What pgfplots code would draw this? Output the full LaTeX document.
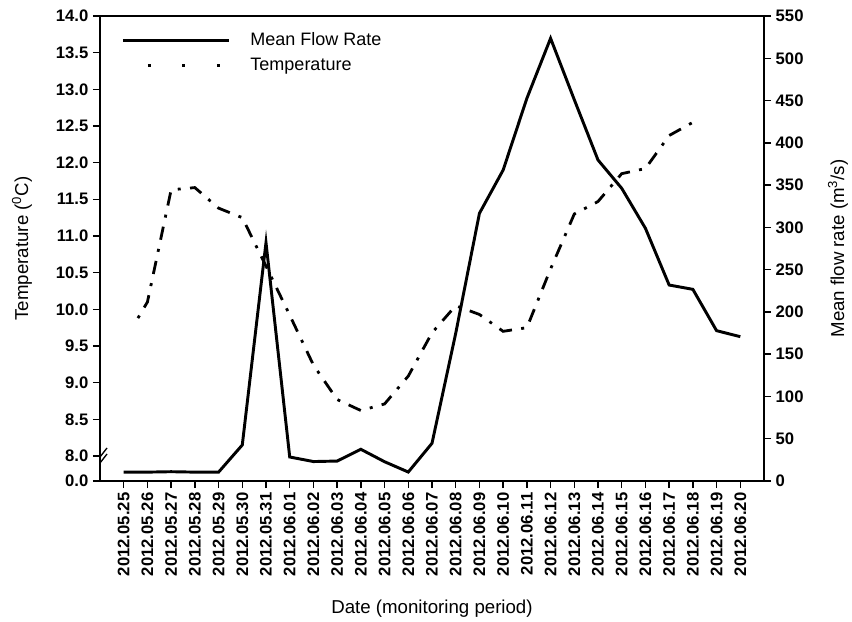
\documentclass[border=0pt]{standalone}
\usepackage{pgfplots}
\pgfplotsset{compat=1.18}
\usepackage{fontspec}
\setmainfont{Liberation Sans}
\usetikzlibrary{calc}
\newlength\px
\setlength\px{0.75pt}

\begin{document}
\begin{tikzpicture}
\pgfplotsset{
  common/.style={
    scale only axis, width=664\px, height=465\px,
    xmin=-1, xmax=27,
    tick align=outside, major tick length=7\px,
    tick style={line width=1.1pt, black},
    axis line style={line width=1.1pt},
    /pgf/number format/assume math mode=true,
    tick label style={font=\bfseries\fontsize{12.5}{14}\selectfont},
    label style={font=\fontsize{14}{16}\selectfont},
  }
}
\begin{axis}[common, name=ax,
  ymin=7.659, ymax=14,
  ytick={7.659,8,8.5,9,9.5,10,10.5,11,11.5,12,12.5,13,13.5,14},
  yticklabels={0.0,8.0,8.5,9.0,9.5,10.0,10.5,11.0,11.5,12.0,12.5,13.0,13.5,14.0},
  xtick={0,...,26},
  xticklabels={2012.05.25,2012.05.26,2012.05.27,2012.05.28,2012.05.29,2012.05.30,2012.05.31,2012.06.01,2012.06.02,2012.06.03,2012.06.04,2012.06.05,2012.06.06,2012.06.07,2012.06.08,2012.06.09,2012.06.10,2012.06.11,2012.06.12,2012.06.13,2012.06.14,2012.06.15,2012.06.16,2012.06.17,2012.06.18,2012.06.19,2012.06.20},
  x tick label style={rotate=90, anchor=east},
  xtick pos=bottom, ytick pos=left,
  xlabel={Date (monitoring period)},
  xlabel style={at={(axis description cs:0.5,-0.2753)}, anchor=center},
  ylabel={Temperature (\textsuperscript{0}C)},
  ylabel style={at={(axis description cs:-0.1175,0.5)}, anchor=center},
]
\addplot[line width=2.1pt, line cap=butt, dash pattern=on 2.25pt off 7pt on 10pt off 7pt] coordinates {
(0.6,9.88) (1,10.10) (2,11.63) (3,11.66) (4,11.38) (5,11.25) (6,10.59) (7,9.92)
(8,9.24) (9,8.77) (10,8.62) (11,8.71) (12,9.09) (13,9.68) (14,10.05) (15,9.93)
(16,9.70) (17,9.75) (18,10.55) (19,11.30) (20,11.47) (21,11.85) (22,11.92)
(23,12.37) (24,12.55)
};
% axis break marks
\draw[white, line width=3pt] (axis description cs:0,0.0452) ++(0,-3.5\px) -- ++(0,7\px);
\draw[line width=1pt] (axis description cs:0,0.0452) ++(-7\px,-12\px) -- ++(14\px,18\px);
\draw[line width=1pt] (axis description cs:0,0.0452) ++(-7\px,-6\px) -- ++(14\px,18\px);
\end{axis}

\begin{axis}[common,
  ymin=0, ymax=550, ytick={0,50,...,550},
  axis y line*=right, axis x line=none,
  ylabel={Mean flow rate (m\textsuperscript{3}/s)},
  ylabel style={at={(axis description cs:1.1114,0.5)}, anchor=center},
  legend style={at={(axis description cs:0.026,0.976)}, anchor=north west,
    draw=none, fill=none, font=\fontsize{13.5}{15}\selectfont,
    row sep=4pt, column sep=13pt},
  legend cell align=left,
  legend image code/.code={\draw[#1] (0pt,0pt) -- (106\px,0pt);},
]
\addplot[line width=2.2pt, line join=miter] coordinates {
(0,10.5) (1,10.5) (2,11) (3,10.5) (4,10.5) (5,42.6) (6,282) (7,28.4) (8,23)
(9,23.6) (10,37.5) (11,22.8) (12,10.6) (13,44.6) (14,174.7) (15,316.6)
(16,367.8) (17,452.6) (18,523.6) (19,451) (20,379.7) (21,346.2) (22,298.9)
(23,231.8) (24,226.7) (25,177.8) (26,170.7)
};
\addlegendentry{Mean Flow Rate}
\addlegendimage{line width=2pt, line cap=butt, dash pattern=on 2.25pt off 23.6pt, dash phase=7.1pt}
\addlegendentry{Temperature}
\end{axis}
\pgfresetboundingbox
\path ($(ax.south west)+(-100\px,-140\px)$) rectangle ($(ax.north east)+(88\px,16\px)$);
\end{tikzpicture}
\end{document}
